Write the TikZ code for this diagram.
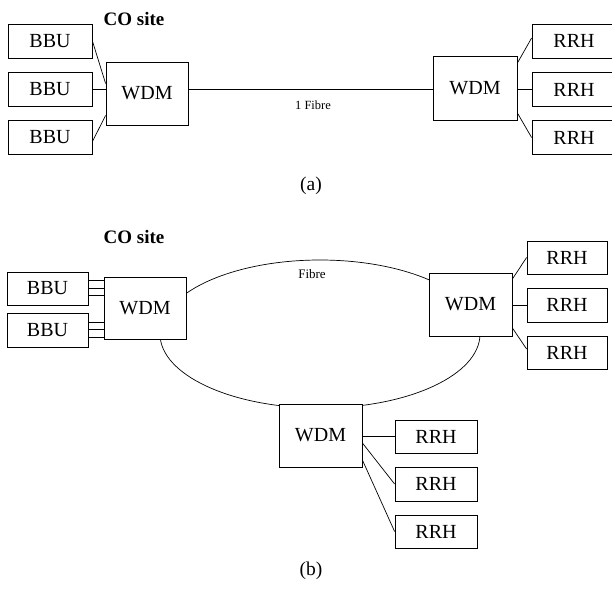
\documentclass[tikz,border=0pt]{standalone}
\usepackage{fontspec}
\setmainfont{Liberation Serif}
\usetikzlibrary{calc}
\begin{document}
\begin{tikzpicture}[x=1pt,y=-1pt,
  box/.style={draw, line width=0.8pt, fill=white, inner sep=0pt, font=\fontsize{20}{22}\selectfont},
  bbubox/.style={box, minimum width=84pt, minimum height=34pt},
  wdmbox/.style={box, minimum width=83pt, minimum height=63pt},
  link/.style={line width=0.7pt},
  lbl/.style={inner sep=0pt}]
\useasboundingbox (0,0) rectangle (612,592);
\clip (0,0) rectangle (612,592);
% ---------------- (a) ----------------
\node[lbl, font=\fontsize{19}{21}\selectfont\bfseries] (coA) at (134,19) {CO site};
\node[bbubox] (bbuA1) at (50,41) {BBU};
\node[bbubox] (bbuA2) at (50,89.5) {BBU};
\node[bbubox] (bbuA3) at (50,137.5) {BBU};
\node[wdmbox, minimum width=82pt] (wdmA1) at (147,93.5) {WDM};
\node[wdmbox, minimum width=84pt, minimum height=64pt] (wdmA2) at (475,88) {WDM};
\node[bbubox] (rrhA1) at (574,41) {RRH};
\node[bbubox] (rrhA2) at (574,89.5) {RRH};
\node[bbubox] (rrhA3) at (574,137.5) {RRH};
\draw[link] (bbuA1.east) -- ([yshift=10pt]wdmA1.west);
\draw[link] (bbuA2.east) -- (wdmA1.west |- bbuA2.east);
\draw[link] ([yshift=-4pt]bbuA3.east) -- ([yshift=-22pt]wdmA1.west);
\draw[link] (wdmA1.east |- bbuA2.east) -- (wdmA2.west |- bbuA2.east);
\draw[link] ([yshift=25pt]wdmA2.east) -- ([yshift=3pt]rrhA1.west);
\draw[link] (wdmA2.east |- rrhA2.west) -- (rrhA2.west);
\draw[link] ([yshift=-25pt]wdmA2.east) -- (rrhA3.west);
\node[lbl, font=\fontsize{12.5}{14}\selectfont] (fibA) at (313,105) {1 Fibre};
\node[lbl, font=\fontsize{19.5}{21}\selectfont] (capA) at (311,186) {(a)};
% ---------------- (b) ----------------
\node[lbl, font=\fontsize{19}{21}\selectfont\bfseries] (coB) at (134,237) {CO site};
\draw[link] (320,334) ellipse [x radius=160, y radius=74];
\node[bbubox, minimum width=81pt, minimum height=33pt] (bbuB1) at (47.5,288.5) {BBU};
\node[bbubox, minimum width=81pt, minimum height=34pt] (bbuB2) at (47.5,330) {BBU};
\node[wdmbox, minimum width=82pt, minimum height=62pt] (wdmB1) at (145,308) {WDM};
\node[wdmbox] (wdmB2) at (470.5,304.5) {WDM};
\node[wdmbox] (wdmB3) at (320.5,435.5) {WDM};
\node[bbubox, minimum width=80pt, minimum height=33pt] (rrhB1) at (567,257.5) {RRH};
\node[bbubox, minimum width=80pt, minimum height=34pt] (rrhB2) at (567,305) {RRH};
\node[bbubox, minimum width=80pt, minimum height=33pt] (rrhB3) at (567,352.5) {RRH};
\node[bbubox, minimum width=82pt, minimum height=33pt] (rrhC1) at (436,436.5) {RRH};
\node[bbubox, minimum width=82pt, minimum height=34pt] (rrhC2) at (436,484) {RRH};
\node[bbubox, minimum width=82pt, minimum height=33pt] (rrhC3) at (436,531.5) {RRH};
\foreach \s [count=\i] in {8,0.5,-7}{
  \coordinate (p\i) at ([yshift=\s pt]bbuB1.east);
  \draw[link] (p\i) -- (p\i -| wdmB1.west);
}
\foreach \s [count=\i] in {7.5,0.5,-7}{
  \coordinate (q\i) at ([yshift=\s pt]bbuB2.east);
  \draw[link] (q\i) -- (q\i -| wdmB1.west);
}
\draw[link] ([yshift=25.5pt]wdmB2.east) -- (rrhB1.west);
\draw[link] (wdmB2.east |- rrhB2.west) -- (rrhB2.west);
\draw[link] ([yshift=-23.5pt]wdmB2.east) -- ([yshift=3.5pt]rrhB3.west);
\draw[link] (wdmB3.east |- rrhC1.west) -- (rrhC1.west);
\draw[link] ([yshift=-7.5pt]wdmB3.east) -- (rrhC2.west);
\draw[link] ([yshift=-24.5pt]wdmB3.east) -- (rrhC3.west);
\node[lbl, font=\fontsize{13}{15}\selectfont] (fibB) at (312,274) {Fibre};
\node[lbl, font=\fontsize{19.5}{21}\selectfont] (capB) at (311,571) {(b)};
\end{tikzpicture}
\end{document}
